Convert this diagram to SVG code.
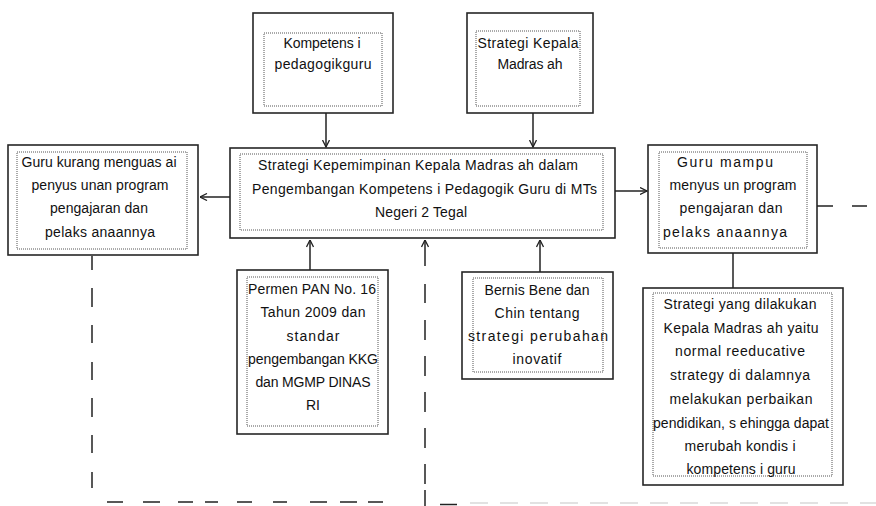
<svg xmlns="http://www.w3.org/2000/svg" width="876" height="506" viewBox="0 0 876 506">
<style>
.outer{fill:#fff;stroke:#262626;stroke-width:1.6}
.inner{fill:none;stroke:#555;stroke-width:1;stroke-dasharray:1 1}
text{font-family:"Liberation Sans",Arial,sans-serif;font-size:14px;fill:#111;text-anchor:middle}
.c{fill:none;stroke:#222;stroke-width:1.5}
.faint{fill:none;stroke:#e2e2e2;stroke-width:2;stroke-dasharray:18 12}
</style>
<defs>
<marker id="ah" viewBox="0 0 8 8" refX="7.5" refY="4" markerWidth="8" markerHeight="8" markerUnits="userSpaceOnUse" orient="auto">
<path d="M0.5,0.5 L7.5,4 L0.5,7.5" fill="none" stroke="#222" stroke-width="1.3" stroke-dasharray="none"/>
</marker>
</defs>
<rect width="876" height="506" fill="#fff"/>

<g id="kompetensi">
<rect class="outer" x="253" y="13" width="140" height="100"/>
<rect class="inner" x="264" y="33" width="118" height="73"/>
<text x="322" y="48" textLength="77" lengthAdjust="spacing">Kompetens i</text>
<text x="323" y="69" textLength="97" lengthAdjust="spacing">pedagogikguru</text>
</g>

<g id="strategi-kepala">
<rect class="outer" x="467" y="13" width="126" height="100"/>
<rect class="inner" x="476" y="31" width="104" height="75"/>
<text x="528" y="48" textLength="101" lengthAdjust="spacing">Strategi Kepala</text>
<text x="530" y="69" textLength="65" lengthAdjust="spacing">Madras ah</text>
</g>

<g id="main">
<rect class="outer" x="230" y="148" width="385" height="90"/>
<rect class="inner" x="240" y="154" width="363" height="76"/>
<text x="418" y="170" textLength="320" lengthAdjust="spacing">Strategi Kepemimpinan Kepala Madras ah dalam</text>
<text x="424.5" y="193.5" textLength="345" lengthAdjust="spacing">Pengembangan Kompetens i Pedagogik  Guru di MTs</text>
<text x="421" y="217" textLength="92" lengthAdjust="spacing">Negeri 2 Tegal</text>
</g>

<g id="guru-kurang">
<rect class="outer" x="8" y="145" width="190" height="110"/>
<rect class="inner" x="17" y="152" width="170" height="97"/>
<text x="99" y="167" textLength="155" lengthAdjust="spacing">Guru kurang menguas ai</text>
<text x="100" y="190" textLength="137" lengthAdjust="spacing">penyus unan program</text>
<text x="99" y="213" textLength="98" lengthAdjust="spacing">pengajaran dan</text>
<text x="100" y="237" textLength="110" lengthAdjust="spacing">pelaks anaannya</text>
</g>

<g id="guru-mampu">
<rect class="outer" x="648" y="145" width="169" height="108"/>
<rect class="inner" x="659" y="152" width="148" height="96"/>
<text x="725" y="167" textLength="96" lengthAdjust="spacing">Guru mampu</text>
<text x="733" y="190" textLength="127" lengthAdjust="spacing">menyus un program</text>
<text x="731" y="213" textLength="103" lengthAdjust="spacing">pengajaran dan</text>
<text x="725" y="237" textLength="124" lengthAdjust="spacing">pelaks anaannya</text>
</g>

<g id="permen">
<rect class="outer" x="237" y="270" width="151" height="164"/>
<rect class="inner" x="247" y="277" width="131" height="149"/>
<text x="312" y="294" textLength="128" lengthAdjust="spacing">Permen PAN No. 16</text>
<text x="313" y="317" textLength="105" lengthAdjust="spacing">Tahun 2009 dan</text>
<text x="313" y="341" textLength="53" lengthAdjust="spacing">standar</text>
<text x="313" y="364" textLength="130" lengthAdjust="spacing">pengembangan KKG</text>
<text x="313" y="387" textLength="115" lengthAdjust="spacing">dan MGMP  DINAS</text>
<text x="313" y="410">RI</text>
</g>

<g id="bernis">
<rect class="outer" x="462" y="272" width="151" height="107"/>
<rect class="inner" x="473" y="278" width="130" height="94"/>
<text x="537" y="295" textLength="105" lengthAdjust="spacing">Bernis Bene dan</text>
<text x="537" y="318" textLength="85" lengthAdjust="spacing">Chin tentang</text>
<text x="538" y="341" textLength="140" lengthAdjust="spacing">strategi perubahan</text>
<text x="537" y="364" textLength="49" lengthAdjust="spacing">inovatif</text>
</g>

<g id="strategi-normal">
<rect class="outer" x="643" y="288" width="200" height="197"/>
<rect class="inner" x="653" y="293" width="179" height="183"/>
<text x="740" y="308.5" textLength="153" lengthAdjust="spacing">Strategi yang dilakukan</text>
<text x="741" y="332.5" textLength="155" lengthAdjust="spacing">Kepala Madras ah  yaitu</text>
<text x="740" y="355.5" textLength="130" lengthAdjust="spacing">normal reeducative</text>
<text x="740" y="379.5" textLength="140" lengthAdjust="spacing">strategy di dalamnya</text>
<text x="741" y="403.5" textLength="143" lengthAdjust="spacing">melakukan perbaikan</text>
<text x="741" y="427.5" textLength="176" lengthAdjust="spacing">pendidikan, s ehingga dapat</text>
<text x="740" y="450.5" textLength="111" lengthAdjust="spacing">merubah kondis i</text>
<text x="741" y="474" textLength="109" lengthAdjust="spacing">kompetens i guru</text>
</g>

<g id="connectors">
<path class="c" d="M326,113 V147" marker-end="url(#ah)"/>
<path class="c" d="M533,113 V147" marker-end="url(#ah)"/>
<path class="c" d="M230,197 H200" marker-end="url(#ah)"/>
<path class="c" d="M615,191 H647" marker-end="url(#ah)"/>
<path class="c" d="M310,270 V240" marker-end="url(#ah)"/>
<path class="c" d="M540,272 V240" marker-end="url(#ah)"/>
<path class="c" d="M425,266 V240" marker-end="url(#ah)"/>
<path class="c" d="M425,284 V303 M425,320 V340 M425,356 V376 M425,392 V412 M425,428 V448 M425,464 V484 M425,490 V506"/>
<path class="c" d="M733,253 V288"/>
<path class="c" d="M92,256 V270 M92,288 V307 M92,325 V343 M92,362 V380 M92,398 V417 M92,435 V453 M92,472 V488"/>
<path class="c" d="M107,502 H123 M143,502 H160 M178,502 H193 M205,502 H218 M237,502 H252 M273,502 H287 M310,502 H327 M340,502 H357 M368,502 H383"/>
<path class="c" d="M817,206 H833 M852,206 H867"/>
<path class="c" stroke-width="2.5" d="M440,504.5 H457"/>
<path class="faint" d="M470,503 H876"/>
</g>
</svg>
